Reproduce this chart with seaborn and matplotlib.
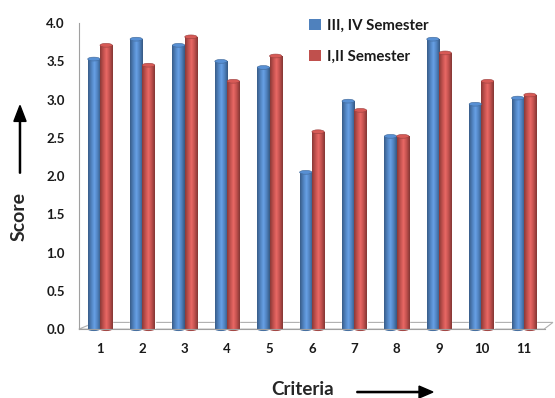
import numpy as np
import pandas as pd
import matplotlib
matplotlib.use("Agg")
import matplotlib.pyplot as plt
import seaborn as sns
from matplotlib.colors import LinearSegmentedColormap
from matplotlib.patches import Polygon, Ellipse, Patch

criteria = ["1", "2", "3", "4", "5", "6", "7", "8", "9", "10", "11"]
sem_34 = [3.53, 3.79, 3.71, 3.50, 3.42, 2.05, 2.98, 2.52, 3.79, 2.94, 3.02]
sem_12 = [3.71, 3.45, 3.82, 3.24, 3.57, 2.58, 2.86, 2.52, 3.61, 3.24, 3.06]
series_names = ["III, IV Semester", "I,II Semester"]
colors = ["#4F81BD", "#C0504D"]
y_ticks = [0.0, 0.5, 1.0, 1.5, 2.0, 2.5, 3.0, 3.5, 4.0]

df = pd.DataFrame({
    "Criteria": criteria * 2,
    "Score": sem_34 + sem_12,
    "Series": [series_names[0]] * len(criteria) + [series_names[1]] * len(criteria),
})

sns.set_style("white")
plt.rcParams["font.family"] = ["Lato", "DejaVu Sans"]

fig = plt.figure(figsize=(5.55, 3.98), dpi=100)
ax = fig.add_axes([0.142, 0.173, 0.840, 0.769])

sns.barplot(data=df, x="Criteria", y="Score", hue="Series", palette=colors,
            width=0.58, ax=ax, legend=False, saturation=1)

# cylinder-like shading
def shade(color):
    c = np.array(matplotlib.colors.to_rgb(color))
    dark = c * 0.72
    light = np.clip(c * 1.15 + 0.05, 0, 1)
    return LinearSegmentedColormap.from_list("s", [dark, c, light, c, dark * 0.95])

for patch in list(ax.patches):
    fc = patch.get_facecolor()
    x0, y0 = patch.get_x(), patch.get_y()
    w, h = patch.get_width(), patch.get_height()
    if h <= 0:
        continue
    grad = np.linspace(0, 1, 64).reshape(1, -1)
    im = ax.imshow(grad, extent=[x0, x0 + w, y0, y0 + h], aspect="auto",
                   cmap=shade(fc), origin="lower", zorder=patch.get_zorder() + 0.1)
    im.set_clip_path(patch)
    c = np.array(matplotlib.colors.to_rgb(fc))
    top = Ellipse((x0 + w / 2, y0 + h), w, 0.05, facecolor=np.clip(c * 1.12, 0, 1),
                  edgecolor=c * 0.8, lw=0.4, zorder=patch.get_zorder() + 0.2)
    ax.add_patch(top)
    bot = Ellipse((x0 + w / 2, y0), w, 0.05, facecolor=c * 0.85,
                  edgecolor="none", zorder=patch.get_zorder() + 0.05, clip_on=False)
    ax.add_patch(bot)

ax.set_xlim(-0.5, len(criteria) - 0.5)
ax.set_ylim(0, 4.0)
ax.set_yticks(y_ticks)
ax.set_yticklabels([f"{v:.1f}" for v in y_ticks])
ax.set_xticks(range(len(criteria)))
ax.set_xticklabels(criteria)
ax.set_xticks(np.arange(-0.5, len(criteria), 1.0), minor=True)
ax.tick_params(axis="x", which="major", length=0, pad=10, labelsize=9.5)
ax.tick_params(axis="x", which="minor", length=4, color="#A0A0A0", width=0.8, direction="out")
ax.tick_params(axis="y", which="major", length=4, color="#A0A0A0", width=0.8, pad=6, labelsize=9.5)
for lbl in ax.get_xticklabels() + ax.get_yticklabels():
    lbl.set_fontweight("bold")
    lbl.set_color("#1a1a1a")

for s in ["top", "right"]:
    ax.spines[s].set_visible(False)
ax.spines["left"].set_color("#A0A0A0")
ax.spines["bottom"].set_color("#A0A0A0")
ax.spines["left"].set_linewidth(0.8)
ax.spines["bottom"].set_linewidth(0.8)
ax.set_xlabel("")
ax.set_ylabel("")

# 3D floor outline
floor = Polygon([(0, 0), (0.035, 0.022), (1.017, 0.022), (0.998, 0)], closed=True,
                transform=ax.transAxes, fill=False, edgecolor="#B0B0B0", lw=0.8,
                clip_on=False, zorder=0.5)
ax.add_patch(floor)

handles = [Patch(facecolor=col, edgecolor="none") for col in colors]
leg = ax.legend(handles, series_names, loc="upper left", bbox_to_anchor=(0.543, 0.972),
                bbox_transform=fig.transFigure, frameon=False, borderpad=0,
                handlelength=0.8, handleheight=0.7, handletextpad=0.4,
                labelspacing=1.15, prop={"weight": "bold", "size": 10.8})
for t in leg.get_texts():
    t.set_color("#1a1a1a")

fig.text(0.035, 0.455, "Score", rotation=90, ha="center", va="center",
         fontsize=14, fontweight="bold")
fig.text(0.545, 0.022, "Criteria", ha="center", va="center",
         fontsize=13.5, fontweight="bold")
fig.patches.append(matplotlib.patches.FancyArrow(
    0.036, 0.565, 0, 0.17, width=0.002, head_width=0.022, head_length=0.04,
    length_includes_head=True, color="black", transform=fig.transFigure))
fig.patches.append(matplotlib.patches.FancyArrow(
    0.643, 0.015, 0.137, 0, width=0.003, head_width=0.03, head_length=0.025,
    length_includes_head=True, color="black", transform=fig.transFigure))

fig.savefig("out.png", dpi=100)
